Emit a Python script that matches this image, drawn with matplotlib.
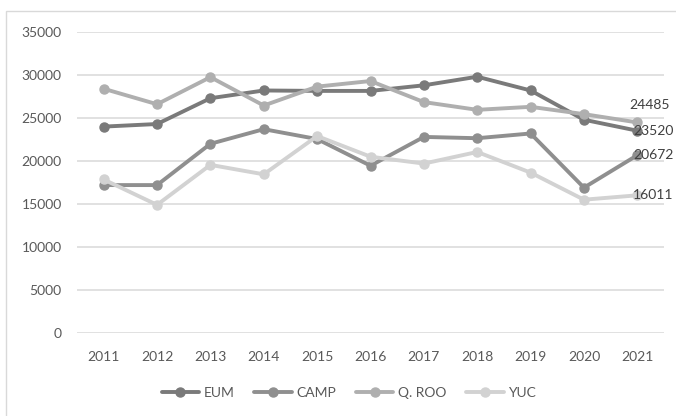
import matplotlib.pyplot as plt
from matplotlib.patches import Rectangle

# annual series per entity
years = ["2011", "2012", "2013", "2014", "2015", "2016", "2017", "2018", "2019", "2020", "2021"]
eum = [24000, 24300, 27300, 28200, 28150, 28150, 28800, 29800, 28200, 24800, 23520]
camp = [17200, 17200, 22000, 23700, 22550, 19450, 22800, 22650, 23200, 16900, 20672]
qroo = [28400, 26600, 29750, 26450, 28650, 29300, 26850, 25950, 26300, 25450, 24485]
yuc = [17850, 14900, 19550, 18450, 22900, 20500, 19700, 21050, 18650, 15500, 16011]

series = [("EUM", eum, "#7a7a7a"),
          ("CAMP", camp, "#8f8f8f"),
          ("Q. ROO", qroo, "#afafaf"),
          ("YUC", yuc, "#d2d2d2")]

plt.rcParams['font.family'] = ['Lato', 'DejaVu Sans']

fig = plt.figure(figsize=(6.76, 4.16), dpi=100)
ax = fig.add_axes([77 / 676, 83 / 416, 587 / 676, 301 / 416])

x = list(range(len(years)))
for name, vals, col in series:
    ax.plot(x, vals, color=col, lw=2.8, marker="o", ms=6.5, label=name,
            solid_capstyle="round", zorder=3)

# end-of-line value labels
last = len(years) - 1
ax.annotate(f"{qroo[-1]}", (last, qroo[-1]), xytext=(-6, 8), textcoords="offset points",
            fontsize=10, color="#404040", va="bottom", ha="left", annotation_clip=False)
for vals in (eum, camp, yuc):
    ax.annotate(f"{vals[-1]}", (last, vals[-1]), xytext=(-3, 0), textcoords="offset points",
                fontsize=10, color="#404040", va="center", ha="left", annotation_clip=False)

ax.set_xlim(-0.5, len(years) - 0.5)
ax.set_ylim(0, 35000)
ax.set_yticks(range(0, 35001, 5000))
ax.set_xticks(x)
ax.set_xticklabels(years)
ax.tick_params(axis="both", length=0, labelsize=10, labelcolor="#595959")
ax.tick_params(axis="y", pad=11)
ax.tick_params(axis="x", pad=13)
ax.grid(axis="y", color="#d9d9d9", lw=1.1)
ax.set_axisbelow(True)
for s in ax.spines.values():
    s.set_visible(False)

leg = ax.legend(loc="center", bbox_to_anchor=(349 / 676, 23 / 416),
                bbox_transform=fig.transFigure, ncol=4, frameon=False,
                fontsize=10, handlelength=2.7, columnspacing=1.4, handletextpad=0.35)
for t in leg.get_texts():
    t.set_color("#595959")

# chart area border
fig.patches.append(Rectangle((6 / 676, -0.1), 1.0, (416 - 11) / 416 + 0.1,
                             transform=fig.transFigure, fill=False,
                             edgecolor="#d9d9d9", lw=1.0))

fig.savefig("out.png", dpi=100)
